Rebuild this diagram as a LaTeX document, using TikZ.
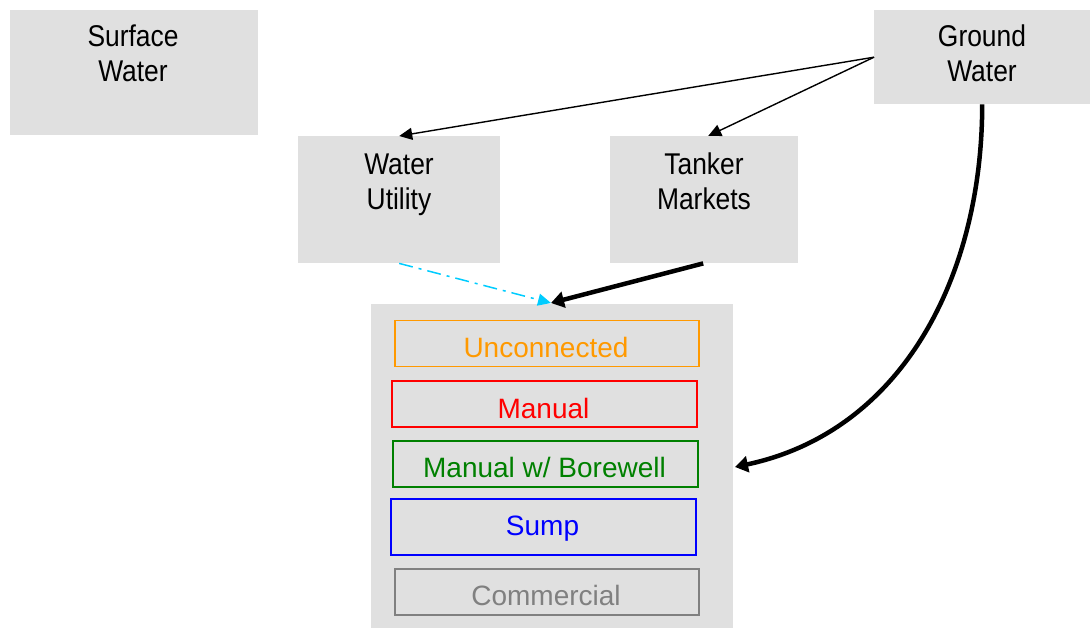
\documentclass[tikz,border=0pt]{standalone}
\usepackage{fontspec}
\setmainfont{Liberation Sans}
\newfontfamily\narrowfont{Liberation Sans}[FakeStretch=0.88]
\usetikzlibrary{arrows.meta}
\definecolor{boxgray}{RGB}{224,224,224}
\definecolor{uorange}{RGB}{255,153,0}
\definecolor{ured}{RGB}{255,0,0}
\definecolor{ugreen}{RGB}{0,128,0}
\definecolor{ublue}{RGB}{0,0,255}
\definecolor{ugray}{RGB}{128,128,128}
\definecolor{ucyan}{RGB}{0,204,255}
\begin{document}
\begin{tikzpicture}[x=1pt,y=-1pt,
  graybox/.style={fill=boxgray,draw=none,inner sep=0pt,anchor=north west},
  toplabel/.style={align=center,inner sep=0pt,font=\narrowfont\fontsize{30}{35}\selectfont},
  catbox/.style={draw=#1,line width=1.5pt,inner sep=0pt,anchor=north west},
  catlabel/.style={text=#1,inner sep=0pt,anchor=base,font=\fontsize{28}{34}\selectfont},
  thinarrow/.style={draw=black,line width=1.4pt,-{Triangle[length=13pt,width=12pt]}},
  thickarrow/.style={draw=black,line width=4.5pt,-{Triangle[length=13pt,width=16pt]}}
  ]
\useasboundingbox (0,0) rectangle (1090,628);
% source boxes
\node[graybox,minimum width=248pt,minimum height=125pt] (sw) at (10,10) {};
\node[toplabel] (swl) at (133,53.5) {Surface\\Water};
\node[graybox,minimum width=216pt,minimum height=94pt] (gw) at (874,10) {};
\node[toplabel] (gwl) at (982,53.5) {Ground\\Water};
\node[graybox,minimum width=202pt,minimum height=127pt] (wu) at (298,136) {};
\node[toplabel] (wul) at (399,184.6) {Water\\Utility};
\node[graybox,minimum width=188pt,minimum height=127pt] (tm) at (610,136) {};
\node[toplabel] (tml) at (704,181.5) {Tanker\\Markets};
% consumer box
\node[graybox,minimum width=362pt,minimum height=324pt] (big) at (371,304) {};
\node[catbox=uorange,minimum width=304pt,minimum height=46pt] (unc) at (394,320) {};
\node[catlabel=uorange] (uncl) at (546,358) {Unconnected};
\node[catbox=ured,minimum width=305pt,minimum height=46pt] (man) at (391,380) {};
\node[catlabel=ured] (manl) at (543.5,418) {Manual};
\node[catbox=ugreen,minimum width=305pt,minimum height=46pt] (mwb) at (392,440) {};
\node[catlabel=ugreen] (mwbl) at (544.5,477) {Manual w/ Borewell};
\node[catbox=ublue,minimum width=305pt,minimum height=56pt] (sump) at (390,498) {};
\node[catlabel=ublue] (sumpl) at (542.5,535) {Sump};
\node[catbox=ugray,minimum width=304pt,minimum height=46pt] (com) at (394,568) {};
\node[catlabel=ugray] (coml) at (546,605) {Commercial};
% connectors
\coordinate (bigin) at (551,303);
\coordinate (bigside) at (735,467);
\draw[thinarrow] (gw.west) -- (wu.north);
\draw[thinarrow] (gw.west) -- ([xshift=4pt]tm.north);
\draw[thickarrow] ([xshift=-1pt]tm.south) -- (bigin);
\draw[ucyan,line width=1.5pt,dash pattern=on 14pt off 6pt on 3pt off 6pt,-{Triangle[length=13pt,width=12pt]}] (wu.south) -- (bigin);
\draw[thickarrow] (gw.south) to[out=-90,in=12] (bigside);
\end{tikzpicture}
\end{document}
